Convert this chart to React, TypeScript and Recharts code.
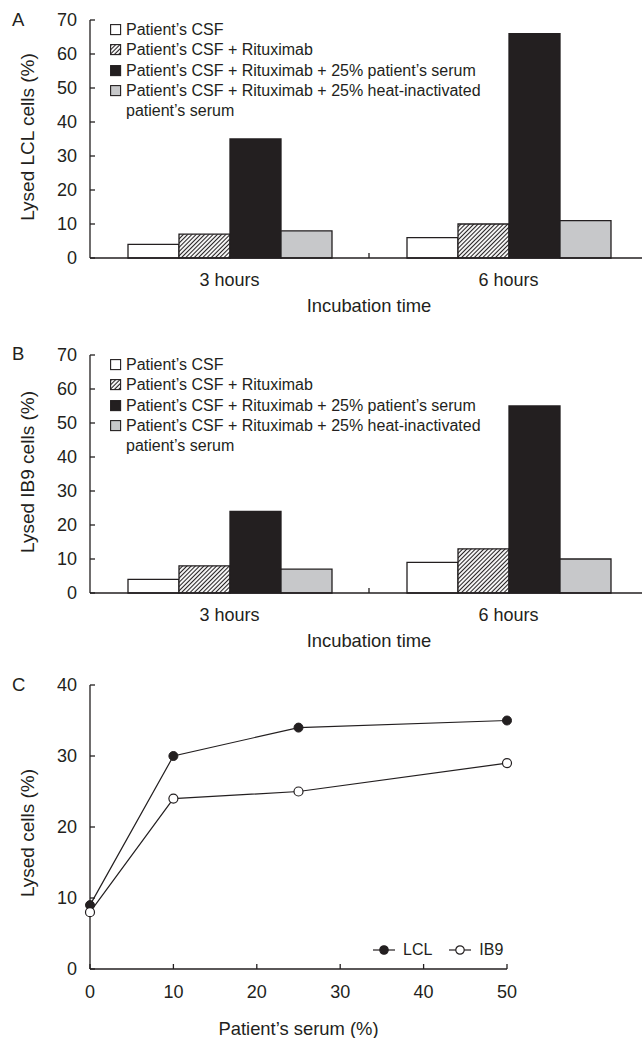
import React from 'react';
import { BarChart, Bar, XAxis, YAxis, Legend, LineChart, Line, Label } from 'recharts';

const FONT = '"Liberation Sans", Arial, Helvetica, sans-serif';
const INK = '#231f20';
const GREY = '#c7c8ca';

// ---- data ----
const timeCategories = ['3 hours', '6 hours'];
const seriesNames = [
  "Patient\u2019s CSF",
  "Patient\u2019s CSF + Rituximab",
  "Patient\u2019s CSF + Rituximab + 25% patient\u2019s serum",
  "Patient\u2019s CSF + Rituximab + 25% heat-inactivated\npatient\u2019s serum",
];
const lclCsf = [4, 6];
const lclRitux = [7, 10];
const lclSerum = [35, 66];
const lclHeat = [8, 11];
const ib9Csf = [4, 9];
const ib9Ritux = [8, 13];
const ib9Serum = [24, 55];
const ib9Heat = [7, 10];
const barYTicks = [0, 10, 20, 30, 40, 50, 60, 70];

const lineNames = ['LCL', 'IB9'];
const serumPercent = [0, 10, 25, 50];
const lclLysis = [9, 30, 34, 35];
const ib9Lysis = [8, 24, 25, 29];
const lineYTicks = [0, 10, 20, 30, 40];
const lineXTicks = [0, 10, 20, 30, 40, 50];

const lclRows = timeCategories.map((t, i) => ({ time: t, csf: lclCsf[i], ritux: lclRitux[i], serum: lclSerum[i], heat: lclHeat[i] }));
const ib9Rows = timeCategories.map((t, i) => ({ time: t, csf: ib9Csf[i], ritux: ib9Ritux[i], serum: ib9Serum[i], heat: ib9Heat[i] }));
const lineRows = serumPercent.map((s, i) => ({ serum: s, lcl: lclLysis[i], ib9: ib9Lysis[i] }));

const textStyle = { fontFamily: FONT, fill: INK };

const YTick = (props: any) => {
  const { x, y, payload } = props;
  return (
    <g>
      <line x1={x} x2={x + 5} y1={y} y2={y} stroke={INK} strokeWidth={1.3} />
      <text x={x - 13} y={y} dy="0.35em" textAnchor="end" fontSize={18} style={textStyle}>
        {payload.value}
      </text>
    </g>
  );
};

const BandTick = (props: any) => {
  const { x, y, payload, index } = props;
  const half = payload && typeof payload.offset === 'number' ? payload.offset : 139.5;
  return (
    <g>
      <text x={x} y={y + 22} dy="0.35em" textAnchor="middle" fontSize={18} style={textStyle}>
        {payload.value}
      </text>
      {index === 0 && <line x1={x + half} x2={x + half} y1={y} y2={y - 5} stroke={INK} strokeWidth={1.3} />}
    </g>
  );
};

const NumXTick = (props: any) => {
  const { x, y, payload } = props;
  return (
    <g>
      <line x1={x} x2={x} y1={y} y2={y - 5} stroke={INK} strokeWidth={1.3} />
      <text x={x} y={y + 23} dy="0.35em" textAnchor="middle" fontSize={18} style={textStyle}>
        {payload.value}
      </text>
    </g>
  );
};

const yTitle = (value: string, dy: number) => (p: any) => {
  const vb = p.viewBox;
  const cx = vb.x + 27;
  const cy = vb.y + vb.height / 2 + dy;
  return (
    <text x={cx} y={cy} dy="0.35em" textAnchor="middle" fontSize={19} transform={`rotate(-90 ${cx} ${cy})`} style={textStyle}>
      {value}
    </text>
  );
};

const xTitle = (value: string, below: number) => (p: any) => {
  const vb = p.viewBox;
  const cx = vb.x + vb.width / 2;
  const cy = vb.y + below;
  return (
    <text x={cx} y={cy} dy="0.35em" textAnchor="middle" fontSize={18.4} style={textStyle}>
      {value}
    </text>
  );
};

const Swatch = ({ kind, hatchId }: { kind: number; hatchId: string }) => {
  const fills = ['#ffffff', `url(#${hatchId})`, INK, GREY];
  return (
    <svg width={12} height={12} style={{ position: 'absolute', left: 0, top: 4 }}>
      <rect x={0.6} y={0.6} width={10} height={10} fill={fills[kind]} stroke={INK} strokeWidth={1.1} />
    </svg>
  );
};

const makeBarLegend = (hatchId: string) => () => (
  <div style={{ fontFamily: FONT, fontSize: 16, color: INK, lineHeight: '20.3px', whiteSpace: 'pre' }}>
    {seriesNames.map((name, i) => (
      <div key={i} style={{ position: 'relative', paddingLeft: 16 }}>
        <Swatch kind={i} hatchId={hatchId} />
        {name}
      </div>
    ))}
  </div>
);

const LineLegend = () => (
  <div style={{ display: 'flex', fontFamily: FONT, fontSize: 16, color: INK, lineHeight: '20px' }}>
    {lineNames.map((name, i) => (
      <div key={i} style={{ display: 'flex', alignItems: 'center', marginRight: 16 }}>
        <svg width={24} height={20} style={{ marginRight: 7 }}>
          <line x1={1} x2={23} y1={10} y2={10} stroke={INK} strokeWidth={1.2} />
          <circle cx={12} cy={10} r={4.2} fill={i === 0 ? INK : '#fff'} stroke={INK} strokeWidth={1.2} />
        </svg>
        <span>{name}</span>
      </div>
    ))}
  </div>
);

const BarPanel = ({ rows, yLabel, hatchId }: { rows: any[]; yLabel: string; hatchId: string }) => (
  <BarChart width={650} height={330} data={rows} margin={{ top: 20, right: 2, bottom: 0, left: 0 }} barCategoryGap={38} barGap={0}>
    <XAxis
      dataKey="time"
      type="category"
      height={72}
      tickLine={false}
      tickSize={0}
      tickMargin={0}
      tick={<BandTick />}
      axisLine={{ stroke: INK, strokeWidth: 1.3 }}
      interval={0}
    >
      <Label content={xTitle('Incubation time', 48)} />
    </XAxis>
    <YAxis
      type="number"
      domain={[0, 70]}
      ticks={barYTicks}
      width={90}
      tickLine={false}
      tickSize={0}
      tickMargin={0}
      tick={<YTick />}
      axisLine={{ stroke: INK, strokeWidth: 1.3 }}
      interval={0}
    >
      <Label content={yTitle(yLabel, -2)} />
    </YAxis>
    <Legend
      layout="vertical"
      align="center"
      verticalAlign="middle"
      content={makeBarLegend(hatchId)}
      wrapperStyle={{ top: 20, left: 110, width: 420, height: 110 }}
    />
    <Bar dataKey="csf" name={seriesNames[0]} fill="#ffffff" stroke={INK} strokeWidth={1.3} isAnimationActive={false} />
    <Bar dataKey="ritux" name={seriesNames[1]} fill={`url(#${hatchId})`} stroke={INK} strokeWidth={1.3} isAnimationActive={false} />
    <Bar dataKey="serum" name={seriesNames[2]} fill={INK} stroke={INK} strokeWidth={1.3} isAnimationActive={false} />
    <Bar dataKey="heat" name={seriesNames[3]} fill={GREY} stroke={INK} strokeWidth={1.3} isAnimationActive={false} />
  </BarChart>
);

const letterStyle: React.CSSProperties = {
  position: 'absolute',
  left: 12,
  fontFamily: FONT,
  fontSize: 18.5,
  lineHeight: '20px',
  color: INK,
};

export default function App() {
  return (
    <div style={{ position: 'absolute', left: 0, top: 0, width: 642, height: 1038, overflow: 'hidden', background: '#fff' }}>
      <svg width={0} height={0} style={{ position: 'absolute' }}>
        <defs>
          <pattern id="hatchA" patternUnits="userSpaceOnUse" width={3} height={3} patternTransform="rotate(45)">
            <rect width={3} height={3} fill="#fff" />
            <line x1={1.5} y1={0} x2={1.5} y2={3} stroke={INK} strokeWidth={1.1} />
          </pattern>
          <pattern id="hatchB" patternUnits="userSpaceOnUse" width={3} height={3} patternTransform="rotate(45)">
            <rect width={3} height={3} fill="#fff" />
            <line x1={1.5} y1={0} x2={1.5} y2={3} stroke={INK} strokeWidth={1.1} />
          </pattern>
        </defs>
      </svg>

      <div style={{ position: 'absolute', left: 0, top: 0, width: 650, height: 330 }}>
        <BarPanel rows={lclRows} yLabel="Lysed LCL cells (%)" hatchId="hatchA" />
      </div>
      <div style={{ ...letterStyle, top: 10 }}>A</div>

      <div style={{ position: 'absolute', left: 0, top: 335, width: 650, height: 330 }}>
        <BarPanel rows={ib9Rows} yLabel="Lysed IB9 cells (%)" hatchId="hatchB" />
      </div>
      <div style={{ ...letterStyle, top: 344 }}>B</div>

      <div style={{ position: 'absolute', left: 0, top: 670, width: 642, height: 368 }}>
        <LineChart width={642} height={368} data={lineRows} margin={{ top: 15, right: 135, bottom: 0, left: 0 }}>
          <XAxis
            dataKey="serum"
            type="number"
            domain={[0, 50]}
            ticks={lineXTicks}
            height={69}
            tickLine={false}
            tickSize={0}
            tickMargin={0}
            tick={<NumXTick />}
            axisLine={{ stroke: INK, strokeWidth: 1.3 }}
            interval={0}
          >
            <Label content={xTitle('Patient\u2019s serum (%)', 60)} />
          </XAxis>
          <YAxis
            type="number"
            domain={[0, 40]}
            ticks={lineYTicks}
            width={90}
            tickLine={false}
            tickSize={0}
            tickMargin={0}
            tick={<YTick />}
            axisLine={{ stroke: INK, strokeWidth: 1.3 }}
            interval={0}
          >
            <Label content={yTitle('Lysed cells (%)', 6)} />
          </YAxis>
          <Legend
            layout="vertical"
            align="center"
            verticalAlign="middle"
            content={<LineLegend />}
            wrapperStyle={{ top: 270, left: 372, width: 200, height: 22 }}
          />
          <Line dataKey="lcl" name={lineNames[0]} stroke={INK} strokeWidth={1.2} dot={{ r: 4.5, fill: INK, stroke: INK, strokeWidth: 1 }} isAnimationActive={false} />
          <Line dataKey="ib9" name={lineNames[1]} stroke={INK} strokeWidth={1.2} dot={{ r: 4.5, fill: '#fff', stroke: INK, strokeWidth: 1.2 }} isAnimationActive={false} />
        </LineChart>
      </div>
      <div style={{ ...letterStyle, top: 675 }}>C</div>
    </div>
  );
}
